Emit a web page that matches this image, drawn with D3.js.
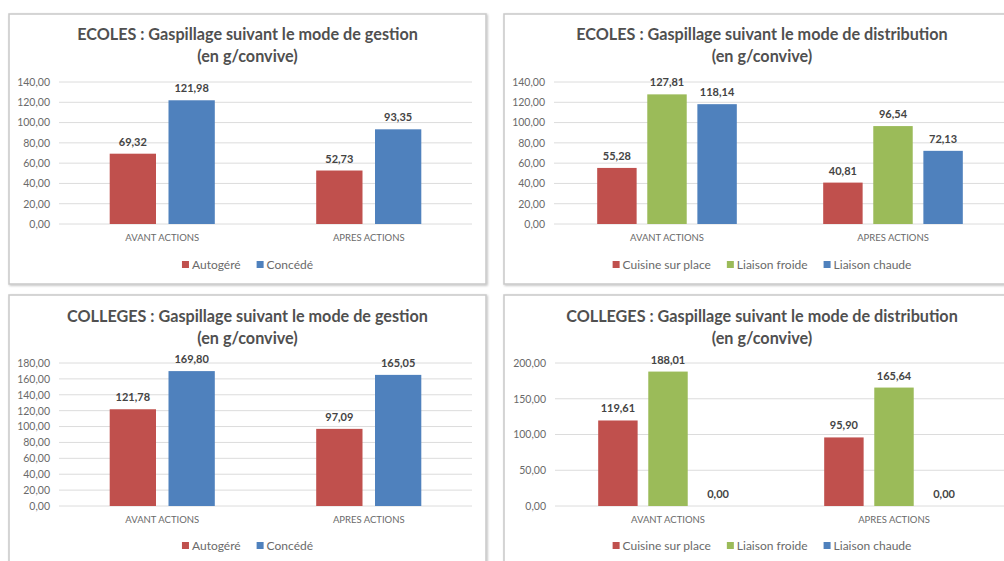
<!DOCTYPE html>
<html>
<head>
<meta charset="utf-8">
<script src="https://cdn.jsdelivr.net/npm/d3@7"></script>
<style>
  body { margin: 0; background: #fff; }
  text { font-family: Lato, "Liberation Sans", sans-serif; }
</style>
</head>
<body>
<div id="chart-area"></div>
<script>
// categories and series
var categories = ["AVANT ACTIONS", "APRES ACTIONS"];
var gestionSeries = ["Autogéré", "Concédé"];
var distributionSeries = ["Cuisine sur place", "Liaison froide", "Liaison chaude"];

// values, one array per series (AVANT, APRES)
var ecolesAutogere = [69.32, 52.73];
var ecolesConcede = [121.98, 93.35];
var ecolesCuisine = [55.28, 40.81];
var ecolesFroide = [127.81, 96.54];
var ecolesChaude = [118.14, 72.13];
var collegesAutogere = [121.78, 97.09];
var collegesConcede = [169.80, 165.05];
var collegesCuisine = [119.61, 95.90];
var collegesFroide = [188.01, 165.64];
var collegesChaude = [0, 0];

// tick labels
var ecolesTicks = [0, 20, 40, 60, 80, 100, 120, 140];
var collegesGestionTicks = [0, 20, 40, 60, 80, 100, 120, 140, 160, 180];
var collegesDistribTicks = [0, 50, 100, 150, 200];

var colors = ["#C0504D", "#4F81BD"];
var colors3 = ["#C0504D", "#9BBB59", "#4F81BD"];

var fr = d3.formatLocale({ decimal: ",", thousands: " ", grouping: [3], currency: ["", "€"] });
var fmt = fr.format(".2f");

var svg = d3.select("#chart-area")
    .append("svg")
    .attr("width", 1004)
    .attr("height", 561)
    .style("display", "block");

var defs = svg.append("defs");
var shadow = defs.append("filter").attr("id", "shadow")
    .attr("x", "-5%").attr("y", "-5%").attr("width", "110%").attr("height", "110%");
shadow.append("feGaussianBlur").attr("in", "SourceAlpha").attr("stdDeviation", 1);
shadow.append("feOffset").attr("dx", 1).attr("dy", 1).attr("result", "b");
shadow.append("feComponentTransfer").append("feFuncA").attr("type", "linear").attr("slope", 0.25);
var merge = shadow.append("feMerge");
merge.append("feMergeNode");
merge.append("feMergeNode").attr("in", "SourceGraphic");

function drawPanel(p) {
    var g = svg.append("g");

    g.append("rect")
        .attr("x", p.x).attr("y", p.y)
        .attr("width", p.w).attr("height", p.h)
        .attr("fill", "#fff")
        .attr("stroke", "#c9c9c9")
        .attr("stroke-width", 1.5)
        .attr("filter", "url(#shadow)");

    var cx = p.x + p.w / 2;
    g.append("text")
        .attr("x", cx).attr("y", p.y + p.t1)
        .attr("text-anchor", "middle")
        .attr("font-size", "16.2px")
        .attr("font-weight", "bold")
        .attr("fill", "#505050")
        .text(p.title);
    g.append("text")
        .attr("x", cx).attr("y", p.y + p.t1 + 22)
        .attr("text-anchor", "middle")
        .attr("font-size", "16.2px")
        .attr("font-weight", "bold")
        .attr("fill", "#505050")
        .text("(en g/convive)");

    var x0 = d3.scaleBand().domain(categories).range([p.left, p.right]).padding(0);
    var y = d3.scaleLinear().domain([0, d3.max(p.ticks)]).range([p.bottom, p.top]);

    // gridlines
    g.selectAll(".grid")
        .data(p.ticks)
        .enter().append("line")
        .attr("x1", p.left).attr("x2", p.right)
        .attr("y1", d => y(d)).attr("y2", d => y(d))
        .attr("stroke", "#dcdcdc")
        .attr("stroke-width", 1);

    var yAxis = g.append("g")
        .attr("transform", "translate(" + p.left + ",0)")
        .call(d3.axisLeft(y).tickValues(p.ticks).tickFormat(fmt).tickSize(0).tickPadding(9));
    yAxis.select(".domain").remove();
    yAxis.selectAll("text")
        .attr("font-family", "Lato, sans-serif")
        .attr("font-size", "10.5px")
        .attr("fill", "#6a6a6a");

    var xAxis = g.append("g")
        .attr("transform", "translate(0," + p.bottom + ")")
        .call(d3.axisBottom(x0).tickSize(0).tickPadding(10));
    xAxis.select(".domain").remove();
    xAxis.selectAll("text")
        .attr("font-family", "Lato, sans-serif")
        .attr("font-size", "9.5px")
        .attr("fill", "#6a6a6a");

    var n = p.series.length;
    var overlap = 0.27, gapW = 2.19;
    var W = x0.bandwidth() / (n + (n - 1) * overlap + gapW);

    p.values.forEach(function (vals, i) {
        var bx = function (j) { return x0(categories[j]) + gapW * W / 2 + i * W * (1 + overlap); };
        g.selectAll(".bar" + i)
            .data(vals)
            .enter().append("rect")
            .attr("x", (d, j) => bx(j))
            .attr("y", d => y(d))
            .attr("width", W)
            .attr("height", d => p.bottom - y(d))
            .attr("fill", p.colors[i]);
        g.selectAll(".lab" + i)
            .data(vals)
            .enter().append("text")
            .attr("x", (d, j) => bx(j) + W / 2)
            .attr("y", d => y(d) - 8)
            .attr("text-anchor", "middle")
            .attr("font-size", "11px")
            .attr("font-weight", "bold")
            .attr("fill", "#444")
            .text(d => fmt(d));
    });

    // legend
    var leg = g.append("g");
    var ly = p.bottom + p.legOff;
    var pos = 0;
    p.series.forEach(function (s, i) {
        leg.append("rect")
            .attr("x", pos).attr("y", ly - 4)
            .attr("width", 7).attr("height", 7)
            .attr("fill", p.colors[i]);
        var t = leg.append("text")
            .attr("x", pos + 10).attr("y", ly + 4)
            .attr("font-size", "12px")
            .attr("fill", "#6a6a6a")
            .text(s);
        pos += 10 + t.node().getComputedTextLength() + 16;
    });
    var legW = pos - 16;
    leg.attr("transform", "translate(" + (cx - legW / 2) + ",0)");
}

drawPanel({
    x: 9, y: 14, w: 477, h: 270, t1: 26,
    left: 59, right: 472, top: 82, bottom: 224, legOff: 41,
    title: "ECOLES : Gaspillage suivant le mode de gestion",
    ticks: ecolesTicks, series: gestionSeries, colors: colors,
    values: [ecolesAutogere, ecolesConcede]
});
drawPanel({
    x: 504, y: 14, w: 516, h: 270, t1: 26,
    left: 554, right: 1006, top: 82, bottom: 224, legOff: 41,
    title: "ECOLES : Gaspillage suivant le mode de distribution",
    ticks: ecolesTicks, series: distributionSeries, colors: colors3,
    values: [ecolesCuisine, ecolesFroide, ecolesChaude]
});
drawPanel({
    x: 9, y: 295, w: 477, h: 280, t1: 27,
    left: 59, right: 472, top: 363, bottom: 506, legOff: 40,
    title: "COLLEGES : Gaspillage suivant le mode de gestion",
    ticks: collegesGestionTicks, series: gestionSeries, colors: colors,
    values: [collegesAutogere, collegesConcede]
});
drawPanel({
    x: 504, y: 295, w: 516, h: 280, t1: 27,
    left: 555, right: 1007, top: 363, bottom: 506, legOff: 40,
    title: "COLLEGES : Gaspillage suivant le mode de distribution",
    ticks: collegesDistribTicks, series: distributionSeries, colors: colors3,
    values: [collegesCuisine, collegesFroide, collegesChaude]
});
</script>
</body>
</html>
